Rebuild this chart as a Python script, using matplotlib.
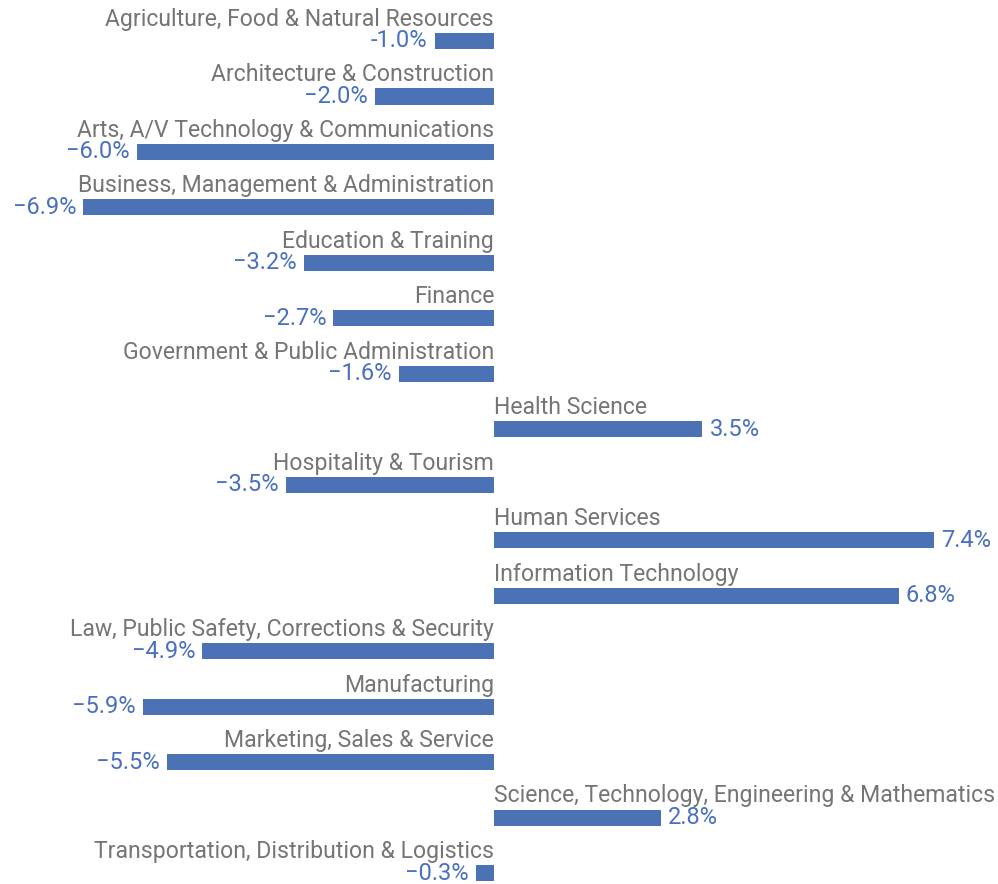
import matplotlib.pyplot as plt

plt.rcParams['font.family'] = ['Roboto', 'DejaVu Sans']

categories = [
    "Agriculture, Food & Natural Resources",
    "Architecture & Construction",
    "Arts, A/V Technology & Communications",
    "Business, Management & Administration",
    "Education & Training",
    "Finance",
    "Government & Public Administration",
    "Health Science",
    "Hospitality & Tourism",
    "Human Services",
    "Information Technology",
    "Law, Public Safety, Corrections & Security",
    "Manufacturing",
    "Marketing, Sales & Service",
    "Science, Technology, Engineering & Mathematics",
    "Transportation, Distribution & Logistics",
]
values = [-1.0, -2.0, -6.0, -6.9, -3.2, -2.7, -1.6, 3.5, -3.5, 7.4, 6.8,
          -4.9, -5.9, -5.5, 2.8, -0.3]
value_labels = ["-1.0%", "\u22122.0%", "\u22126.0%", "\u22126.9%", "\u22123.2%",
                "\u22122.7%", "\u22121.6%", "3.5%", "\u22123.5%", "7.4%", "6.8%",
                "\u22124.9%", "\u22125.9%", "\u22125.5%", "2.8%", "\u22120.3%"]

bar_color = "#4c72b6"
label_color = "#757575"
value_color = "#4a70c0"

fig = plt.figure(figsize=(9.98, 8.84), dpi=100)
ax = fig.add_axes([0, 0, 1, 1])

y = list(range(len(categories)))
ax.barh(y, values, height=0.29, color=bar_color)

for i, (cat, v, lab) in enumerate(zip(categories, values, value_labels)):
    if v < 0:
        ax.text(0, i - 0.39, cat, ha='right', va='center', fontsize=16.6, color=label_color)
        ax.text(v - 0.12, i, lab, ha='right', va='center', fontsize=17, color=value_color)
    else:
        ax.text(0, i - 0.39, cat, ha='left', va='center', fontsize=16.6, color=label_color)
        ax.text(v + 0.12, i, lab, ha='left', va='center', fontsize=17, color=value_color)

ax.set_xlim(-494 / 59.5, 504 / 59.5)
ax.set_ylim(15.197, -0.739)
ax.axis('off')

plt.savefig("out.png")
